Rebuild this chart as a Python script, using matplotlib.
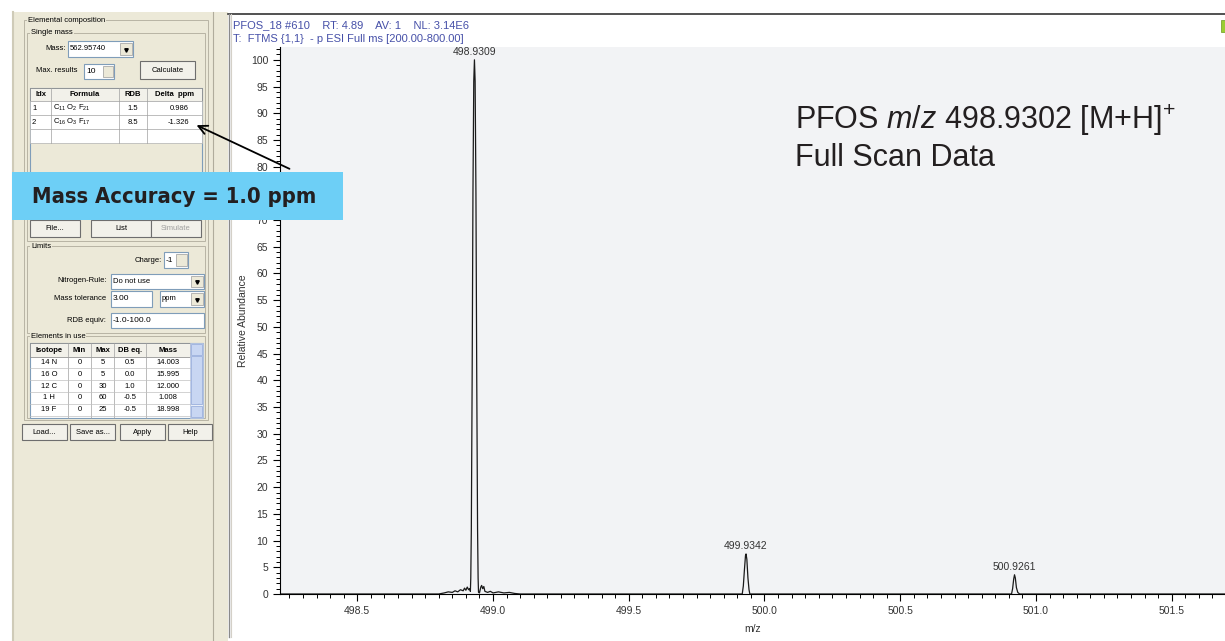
import matplotlib
matplotlib.use('Agg')
import matplotlib.pyplot as plt
from matplotlib.patches import Rectangle
from matplotlib.ticker import MultipleLocator
from matplotlib import font_manager
from matplotlib.font_manager import FontProperties

plt.rcParams['font.family'] = ['Liberation Sans', 'DejaVu Sans']
plt.rcParams['mathtext.fontset'] = 'custom'
plt.rcParams['mathtext.rm'] = 'Liberation Sans'
plt.rcParams['mathtext.it'] = 'Liberation Sans:italic'
plt.rcParams['mathtext.bf'] = 'Liberation Sans:bold'

# ---- spectrum profile (m/z, relative abundance %) ----
mz = [498.20, 498.80, 498.82, 498.835, 498.85, 498.86, 498.87, 498.88, 498.89,
      498.895, 498.90, 498.905, 498.91, 498.914, 498.9165,
      498.918, 498.920, 498.923, 498.926, 498.929, 498.9315, 498.934, 498.937,
      498.940, 498.943, 498.945, 498.9465,
      498.950, 498.955, 498.958, 498.962, 498.966, 498.970, 498.980, 498.990,
      499.000, 499.020, 499.040, 499.060, 499.080, 499.100,
      499.918, 499.922, 499.926, 499.930, 499.932, 499.935, 499.939, 499.943, 499.946,
      500.910, 500.914, 500.918, 500.921, 500.924, 500.928, 500.933, 500.940,
      501.70]
abund = [0, 0, 0.2, 0.4, 0.3, 0.6, 0.4, 0.8, 0.6,
         1.1, 0.7, 1.3, 0.8, 1.0, 0.5,
         3, 12, 40, 75, 96, 100, 96, 75,
         40, 12, 3, 0.3,
         0.2, 1.3, 1.6, 1.0, 1.4, 0.5, 0.3, 0.5,
         0.2, 0.4, 0.2, 0.3, 0.1, 0,
         0, 1.5, 4.5, 7.2, 7.5, 6.5, 3.0, 0.8, 0,
         0, 1.0, 2.8, 3.6, 3.0, 1.2, 0.3, 0,
         0]

peak_mz = [498.9315, 499.932, 500.921]
peak_abund = [100, 7.5, 3.6]
peak_labels = ['498.9309', '499.9342', '500.9261']

header_1 = 'PFOS_18 #610    RT: 4.89    AV: 1    NL: 3.14E6'
header_2 = 'T:  FTMS {1,1}  - p ESI Full ms [200.00-800.00]'

# ---- left panel tables ----
res_idx = ['1', '2']
res_formula = [r'C$_{11}$ O$_{2}$ F$_{21}$', r'C$_{16}$ O$_{3}$ F$_{17}$']
res_rdb = ['1.5', '8.5']
res_delta = ['0.986', '-1.326']

iso_names = ['14 N', '16 O', '12 C', '1 H', '19 F']
iso_min = ['0', '0', '0', '0', '0']
iso_max = ['5', '5', '30', '60', '25']
iso_db = ['0.5', '0.0', '1.0', '-0.5', '-0.5']
iso_mass = ['14.003', '15.995', '12.000', '1.008', '18.998']

BEIGE = '#ECE9D8'

fig = plt.figure(figsize=(12.25, 6.41), dpi=100)
fig.patch.set_facecolor('white')

# background axes in pixel coordinates
ui = fig.add_axes([0, 0, 1, 1], zorder=0)
ui.set_xlim(0, 1225)
ui.set_ylim(641, 0)
ui.axis('off')


def box(ax, x0, y0, x1, y1, fc, ec='#7F9DB9', lw=0.8):
    ax.add_patch(Rectangle((x0, y0), x1 - x0, y1 - y0, fc=fc, ec=ec, lw=lw))


def label(x, y, s, ha='left', size=5.5, color='black', **kw):
    ui.text(x, y, s, ha=ha, va='center', fontsize=size, color=color, **kw)


def button(x0, y0, x1, y1, s, color='black'):
    box(ui, x0, y0, x1, y1, '#F2F1EA', ec='#6E6E6E')
    label((x0 + x1) / 2, (y0 + y1) / 2, s, ha='center', color=color)


def dropdown(x0, y0, x1, y1, s):
    box(ui, x0, y0, x1, y1, 'white')
    label(x0 + 2, (y0 + y1) / 2, s)
    box(ui, x1 - 13, y0 + 2, x1 - 1.5, y1 - 2, BEIGE, ec='#9A9A9A', lw=0.5)
    ui.plot(x1 - 7.2, (y0 + y1) / 2 + 0.5, marker='v', ms=2.5, color='black')


def group(x0, y0, x1, y1, s):
    box(ui, x0, y0, x1, y1, 'none', ec='#B8B4A4', lw=0.7)
    ui.text(x0 + 4, y0, s, ha='left', va='center', fontsize=5.5,
            bbox=dict(fc=BEIGE, ec='none', pad=0.6))


# panels
box(ui, 12, 12, 228, 641, BEIGE, ec='none')
ui.plot([13, 13], [12, 641], color='#CFCBB8', lw=1.5)
ui.plot([213, 213], [12, 641], color='#B0AC9C', lw=0.8)
box(ui, 228, 15, 1226, 637, 'white', ec='none')
ui.plot([228, 1225], [14, 14], color='#333333', lw=1.2)
ui.plot([229, 229], [14, 637], color='#8A8A8A', lw=1.0)
ui.plot([231, 231], [14, 637], color='#D4D0C8', lw=0.8)
box(ui, 1221, 20, 1226, 32, '#9ACD32', ec='#6A9A20', lw=0.5)

label(233, 25, header_1, size=8, color='#4650A8')
label(233, 38.5, header_2, size=8, color='#4650A8')

# group boxes
group(24, 20, 208, 420, 'Elemental composition')
group(27, 33, 205, 241, 'Single mass')
group(27, 246, 205, 333, 'Limits')
group(27, 336, 205, 418, 'Elements in use')

# single mass controls
label(45, 49, 'Mass:')
dropdown(68, 41, 133, 57, '562.95740')
label(36, 71, 'Max. results')
box(ui, 84, 64, 114, 79, 'white')
label(86, 71.5, '10', size=6)
box(ui, 103, 66, 112.5, 77, BEIGE, ec='#9A9A9A', lw=0.5)
button(140, 61, 195, 79, 'Calculate')

# result table
res_cols = [30, 51, 119, 147, 202]
res_head = ['Idx', 'Formula', 'RDB', 'Delta  ppm']
box(ui, 30, 88, 202, 217, BEIGE, ec='#7F9DB9')
box(ui, 30, 88, 202, 101, '#F2F1EA', ec='#808080', lw=0.5)
for r in range(3):
    box(ui, 30, 101 + r * 14, 202, 115 + r * 14, 'white', ec='#B0B0B0', lw=0.5)
for c in res_cols[1:-1]:
    ui.plot([c, c], [88, 143], color='#A0A0A0', lw=0.5)
for i, h in enumerate(res_head):
    label((res_cols[i] + res_cols[i + 1]) / 2, 94.5, h, ha='center', fontweight='bold')
for r in range(len(res_idx)):
    y = 108 + r * 14
    label(32, y, res_idx[r])
    label(53, y, res_formula[r])
    label(133, y, res_rdb[r], ha='center')
    label(189, y, res_delta[r], ha='right')

button(30, 220, 80, 237, 'File...')
button(91, 220, 151, 237, 'List')
button(151, 220, 201, 237, 'Simulate', color='#A0A0A0')

# limits
label(162, 260, 'Charge:', ha='right')
box(ui, 164, 252, 188, 268, 'white')
label(166, 260, '-1', size=6)
box(ui, 176, 254, 187, 266, BEIGE, ec='#9A9A9A', lw=0.5)
label(107, 281, 'Nitrogen-Rule:', ha='right')
dropdown(111, 274, 204, 289, 'Do not use')
label(106, 299, 'Mass tolerance', ha='right')
box(ui, 111, 291, 152, 307, 'white')
label(113, 299, '3.00', size=6)
dropdown(160, 291, 204, 307, 'ppm')
label(106, 320, 'RDB equiv:', ha='right')
box(ui, 111, 313, 204, 328, 'white')
label(113, 320.5, '-1.0-100.0', size=6)

# elements table
iso_cols = [30, 68, 91, 114, 146, 190]
iso_head = ['Isotope', 'Min', 'Max', 'DB eq.', 'Mass']
box(ui, 30, 343, 203, 418, 'white', ec='#7F9DB9')
box(ui, 30, 343, 190, 357, '#F2F1EA', ec='#808080', lw=0.5)
box(ui, 190, 343, 203, 418, '#E8EEF8', ec='#B0C0E0', lw=0.5)
box(ui, 191, 344, 202, 355, '#C8D6F2', ec='#8EA6D8', lw=0.5)
box(ui, 191, 406, 202, 417, '#C8D6F2', ec='#8EA6D8', lw=0.5)
box(ui, 191, 356, 202, 404, '#C8D6F2', ec='#8EA6D8', lw=0.5)
for c in iso_cols[1:-1]:
    ui.plot([c, c], [343, 418], color='#A0A0A0', lw=0.5)
for i, h in enumerate(iso_head):
    label((iso_cols[i] + iso_cols[i + 1]) / 2, 350, h, ha='center', fontweight='bold')
for r in range(len(iso_names)):
    y = 362.5 + r * 11.8
    ui.plot([30, 190], [y + 5.9, y + 5.9], color='#C0C0C0', lw=0.5)
    row = [iso_names[r], iso_min[r], iso_max[r], iso_db[r], iso_mass[r]]
    for i, v in enumerate(row):
        label((iso_cols[i] + iso_cols[i + 1]) / 2, y, v, ha='center')

button(22, 424, 67, 440, 'Load...')
button(70, 424, 115, 440, 'Save as...')
button(120, 424, 165, 440, 'Apply')
button(168, 424, 212, 440, 'Help')

# ---- spectrum axes ----
ax = fig.add_axes([280 / 1225, 1 - 594 / 641, 945 / 1225, 547 / 641], zorder=1)
ax.set_facecolor('#F2F3F5')
ax.plot(mz, abund, color='#1A1A1A', lw=0.9)
ax.set_xlim(498.2152, 501.6964)
ax.set_ylim(0, 102.4)
ax.xaxis.set_major_locator(MultipleLocator(0.5))
ax.xaxis.set_minor_locator(MultipleLocator(0.05))
ax.yaxis.set_major_locator(MultipleLocator(5))
ax.yaxis.set_minor_locator(MultipleLocator(1))
ax.xaxis.set_major_formatter(lambda v, p: f'{v:.1f}')
# label 75 sits completely under the blue call-out box
ax.yaxis.set_major_formatter(lambda v, p: '' if round(v) == 75 else f'{v:.0f}')
ax.tick_params(which='major', length=5, width=0.8, labelsize=7.5, labelcolor='#333333')
ax.tick_params(which='minor', length=3, width=0.7)
for s in ['top', 'right']:
    ax.spines[s].set_visible(False)
ax.spines['left'].set_linewidth(0.8)
ax.spines['bottom'].set_linewidth(0.8)
ax.set_xlabel('m/z', fontsize=7.5, color='#333333', labelpad=6)
ax.set_ylabel('Relative Abundance', fontsize=7.5, color='#333333', labelpad=2)
for x, y, s in zip(peak_mz, peak_abund, peak_labels):
    ax.annotate(s, (x, y), xytext=(0, 2), textcoords='offset points',
                ha='center', va='bottom', fontsize=7.5, color='#333333')

# ---- overlay annotations ----
ov = fig.add_axes([0, 0, 1, 1], zorder=2)
ov.set_xlim(0, 1225)
ov.set_ylim(641, 0)
ov.axis('off')
ov.patch.set_alpha(0)

# look for a bold condensed face for the call-out, else plain bold
acc_prop = FontProperties(family='Liberation Sans', weight='bold')
for f in font_manager.fontManager.ttflist:
    narrow = f.stretch in ('condensed', 'semi-condensed', 'extra-condensed') \
        or 'Narrow' in f.name or 'Condensed' in f.name
    bold = f.weight in (600, 700, 'bold', 'semibold', 'demibold') or 'Bold' in f.fname
    if narrow and bold and 'Italic' not in f.fname and 'Oblique' not in f.fname:
        acc_prop = FontProperties(fname=f.fname)
        break

box(ov, 12, 172, 343, 220, '#6DCFF6', ec='none')
acc = ov.text(32, 197, 'Mass Accuracy = 1.0 ppm', ha='left', va='center',
              fontproperties=acc_prop, fontsize=22, color='#231F20')
fig.canvas.draw()
w = acc.get_window_extent().width
acc.set_fontsize(min(22 * 283 / w, 23))

ov.annotate('', xy=(194, 124), xytext=(292, 170),
            arrowprops=dict(arrowstyle='->', lw=1.3, color='black', mutation_scale=16))

ov.text(795, 120, r'PFOS $\mathit{m/z}$ 498.9302 [M+H]$^{+}$', ha='left', va='center',
        fontsize=22, color='#231F20')
ov.text(795, 158, 'Full Scan Data', ha='left', va='center', fontsize=22, color='#231F20')

fig.savefig('out.png', dpi=100)
